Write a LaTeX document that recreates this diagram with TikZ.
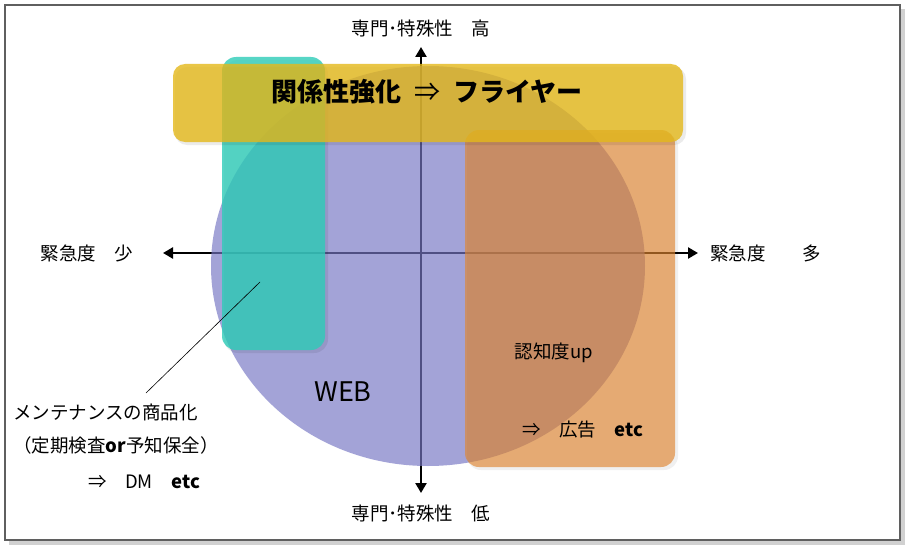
\documentclass[tikz,border=0pt]{standalone}
\usepackage{fontspec}
\setmainfont{Noto Sans CJK JP}
\usetikzlibrary{arrows.meta}
\definecolor{framegray}{HTML}{5F5F5F}
\definecolor{webpurple}{HTML}{7777C4}
\definecolor{dmteal}{HTML}{2ECCB8}
\definecolor{flyergold}{HTML}{E4B81A}
\definecolor{adorange}{HTML}{E08630}

\begin{document}
\begin{tikzpicture}[x=1pt, y=-1pt,
  lbl/.style={font=\fontsize{18.5}{22}\selectfont, inner sep=0pt},
  axis/.style={line width=2.4pt, black, {Triangle[width=11pt,length=10pt]}-{Triangle[width=11pt,length=10pt]}}]
\useasboundingbox (0,0) rectangle (911,551);
% frame with shadow
\fill[black!18] (9,9) rectangle (905,545);
\fill[white] (5,5) rectangle (900,540);
\draw[framegray,line width=2.5pt] (5,5) rectangle (900,540);
% axes (under the shapes)
\coordinate (n) at (421,47);
\coordinate (s) at (421,493);
\coordinate (w) at (163,253);
\coordinate (e) at (698,253);
\draw[axis] (w) -- (e);
\draw[axis] (n) -- (s);
% areas
\fill[webpurple,opacity=0.67] (428,266) ellipse [x radius=217pt, y radius=200pt];
\fill[black,opacity=0.08,rounded corners=14pt] (224,60) rectangle (328,353);
\fill[dmteal,opacity=0.8,rounded corners=14pt] (222,57) rectangle (325,350);
\fill[black,opacity=0.06,rounded corners=14pt] (467,133) rectangle (678,470);
\fill[adorange,opacity=0.65,rounded corners=14pt] (465,130) rectangle (675,467);
\fill[black,opacity=0.08,rounded corners=12pt] (175,67) rectangle (686,145);
\fill[flyergold,opacity=0.8,rounded corners=12pt] (173,64) rectangle (683,142);
% texts
\node[lbl] (hi) at (421,29) {専門･特殊性　高};
\node[lbl] (lo) at (421,514) {専門･特殊性　低};
\node[lbl] (few) at (87,253) {緊急度　少};
\node[lbl,anchor=west] (many) at (710,253) {緊急度　　多};
\node[inner sep=0pt,font=\bfseries\fontsize{26}{30}\selectfont] (flyer) at (427,92) {関係性強化\enspace{\mdseries ⇒}\enspace フライヤー};
\node[inner sep=0pt,font=\fontsize{27}{30}\selectfont] (web) at (343,392) {WEB};
\node[lbl] (aware) at (554,353) {認知度up};
\node[lbl] (ad) at (583,430) {⇒　広告　\textbf{etc}};
\node[lbl,anchor=west] (maint) at (13,412) {メンテナンスの商品化};
\node[lbl,anchor=west] (plan) at (13,445) {（定期検査\textbf{or}予知保全）};
\node[lbl,anchor=west] (dm) at (88,482) {⇒　DM　\textbf{etc}};
% callout to the teal area
\coordinate (pin) at (146,393);
\coordinate (tealpt) at (260,282);
\draw[black,line width=0.6pt] (pin) -- (tealpt);
\end{tikzpicture}
\end{document}
